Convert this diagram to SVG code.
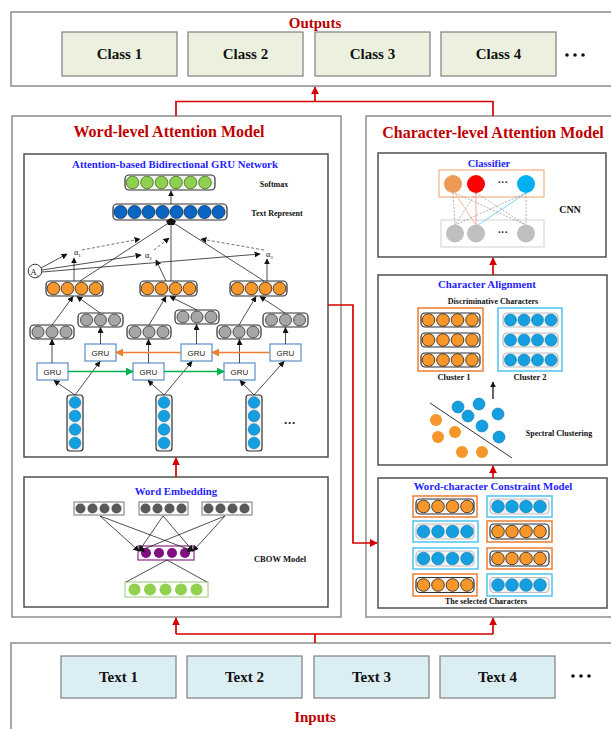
<svg xmlns="http://www.w3.org/2000/svg" width="611" height="729" viewBox="0 0 611 729">
<defs>
<style>
.box{fill:#fff;stroke:#8c8c8c;stroke-width:1.5}
.inner{fill:#fff;stroke:#505050;stroke-width:1.5}
.rt{font-family:"Liberation Serif",serif;font-weight:bold;fill:#c00000;text-anchor:middle}
.bt{font-family:"Liberation Serif",serif;font-weight:bold;fill:#1f1fff;text-anchor:middle}
.kt{font-family:"Liberation Serif",serif;font-weight:bold;fill:#111;text-anchor:middle}
.cls{fill:#ebf1de;stroke:#7f7f7f;stroke-width:1.2}
.txt{fill:#dbeef4;stroke:#7f7f7f;stroke-width:1.2}
.row{fill:#f4f4f4;stroke:#333;stroke-width:1.2}
.lrow{fill:#f2f2f2;stroke:#bfbfbf;stroke-width:1.2}
.o{fill:#f7962b;stroke:#2e2416;stroke-width:0.8}
.b{fill:#14a0e0;stroke:#0b73a8;stroke-width:0.6}
.db{fill:#0a66c2;stroke:#06305c;stroke-width:0.8}
.g{fill:#8fd14f;stroke:#3d6a1c;stroke-width:0.8}
.gr{fill:#a6a6a6;stroke:#333;stroke-width:0.8}
.dg{fill:#595959;stroke:none}
.pu{fill:#7f0f7f;stroke:none}
.lg{fill:#92d050;stroke:none}
.gru{fill:#fff;stroke:#5b8fc9;stroke-width:1.2}
.grut{font-family:"Liberation Sans",Arial,sans-serif;font-size:8px;fill:#222;text-anchor:middle}
.ln{fill:none;stroke:#222;stroke-width:0.8}
.lna{fill:none;stroke:#222;stroke-width:0.8;marker-end:url(#ak)}
.dash{fill:none;stroke:#333;stroke-width:0.7;stroke-dasharray:3,2;marker-end:url(#ak)}
.red{fill:none;stroke:#d40000;stroke-width:1.7}
.reda{fill:none;stroke:#d40000;stroke-width:1.7;marker-end:url(#ar)}
.ob{fill:#fff;stroke:#ed7d31;stroke-width:1.5}
.bb{fill:#fff;stroke:#4fc3f0;stroke-width:1.5}
</style>
<marker id="ar" viewBox="0 0 10 10" refX="9" refY="5" markerWidth="8" markerHeight="8" markerUnits="userSpaceOnUse" orient="auto"><path d="M0,0 L10,5 L0,10 z" fill="#d40000"/></marker>
<marker id="ak" viewBox="0 0 10 10" refX="9" refY="5" markerWidth="6" markerHeight="6" markerUnits="userSpaceOnUse" orient="auto"><path d="M0,0 L10,5 L0,10 z" fill="#111"/></marker>
<marker id="ag" viewBox="0 0 10 10" refX="9" refY="5" markerWidth="8" markerHeight="8" markerUnits="userSpaceOnUse" orient="auto"><path d="M0,0 L10,5 L0,10 z" fill="#00b050"/></marker>
<marker id="ao" viewBox="0 0 10 10" refX="9" refY="5" markerWidth="8" markerHeight="8" markerUnits="userSpaceOnUse" orient="auto"><path d="M0,0 L10,5 L0,10 z" fill="#ed7d31"/></marker>
</defs>

<!-- Outputs -->
<g id="outputs">
<rect class="box" x="11" y="12" width="606" height="74"/>
<text class="rt" x="315" y="28" font-size="15">Outputs</text>
</g>
<g id="class1"><rect class="cls" x="62" y="32" width="115" height="44"/><text class="kt" x="119.5" y="59" font-size="15">Class 1</text></g>
<g id="class2"><rect class="cls" x="188" y="32" width="115" height="44"/><text class="kt" x="245.5" y="59" font-size="15">Class 2</text></g>
<g id="class3"><rect class="cls" x="315" y="32" width="115" height="44"/><text class="kt" x="372.5" y="59" font-size="15">Class 3</text></g>
<g id="class4"><rect class="cls" x="441" y="32" width="115" height="44"/><text class="kt" x="498.5" y="59" font-size="15">Class 4</text></g>
<g id="outdots"><circle cx="567" cy="55" r="1.8" fill="#111"/><circle cx="575" cy="55" r="1.8" fill="#111"/><circle cx="583" cy="55" r="1.8" fill="#111"/></g>

<!-- Word-level model -->
<g id="word-level">
<rect class="box" x="12" y="116" width="329" height="501"/>
<text class="rt" x="169" y="137" font-size="16">Word-level Attention Model</text>
</g>

<g id="gru-network">
<rect class="inner" x="24" y="154" width="304" height="303"/>
<text class="bt" x="175" y="168" font-size="10.8">Attention-based Bidirectional GRU Network</text>
<!-- softmax -->
<rect class="row" x="125" y="175" width="90" height="15" rx="4"/>
<circle class="g" cx="132.5" cy="182.5" r="6.3"/><circle class="g" cx="147" cy="182.5" r="6.3"/><circle class="g" cx="161.5" cy="182.5" r="6.3"/><circle class="g" cx="176" cy="182.5" r="6.3"/><circle class="g" cx="190.5" cy="182.5" r="6.3"/><circle class="g" cx="205" cy="182.5" r="6.3"/>
<text class="kt" x="274" y="187" font-size="8">Softmax</text>
<!-- text represent -->
<rect class="row" x="113" y="204" width="114" height="16" rx="4"/>
<circle class="db" cx="120.5" cy="212" r="6.5"/><circle class="db" cx="134.5" cy="212" r="6.5"/><circle class="db" cx="148.5" cy="212" r="6.5"/><circle class="db" cx="162.5" cy="212" r="6.5"/><circle class="db" cx="176.5" cy="212" r="6.5"/><circle class="db" cx="190.5" cy="212" r="6.5"/><circle class="db" cx="204.5" cy="212" r="6.5"/><circle class="db" cx="218.5" cy="212" r="6.5"/>
<text class="kt" x="277" y="216" font-size="8">Text Represent</text>
<line class="lna" x1="171" y1="204" x2="171" y2="191"/>
<polygon points="166,221 171,218 176,221 174,225 168,225" fill="#111"/>
<!-- orange rows -->
<rect class="row" x="46" y="281" width="57" height="15" rx="4"/>
<circle class="o" cx="53.5" cy="288.5" r="6.3"/><circle class="o" cx="67.5" cy="288.5" r="6.3"/><circle class="o" cx="81.5" cy="288.5" r="6.3"/><circle class="o" cx="95.5" cy="288.5" r="6.3"/>
<rect class="row" x="140" y="281" width="57" height="15" rx="4"/>
<circle class="o" cx="147.5" cy="288.5" r="6.3"/><circle class="o" cx="161.5" cy="288.5" r="6.3"/><circle class="o" cx="175.5" cy="288.5" r="6.3"/><circle class="o" cx="189.5" cy="288.5" r="6.3"/>
<rect class="row" x="230" y="281" width="57" height="15" rx="4"/>
<circle class="o" cx="237.5" cy="288.5" r="6.3"/><circle class="o" cx="251.5" cy="288.5" r="6.3"/><circle class="o" cx="265.5" cy="288.5" r="6.3"/><circle class="o" cx="279.5" cy="288.5" r="6.3"/>
<!-- attention -->
<circle cx="35" cy="271" r="6.8" fill="#fff" stroke="#222" stroke-width="0.9"/>
<text x="34.5" y="274.5" font-family="Liberation Serif,serif" font-size="9" text-anchor="middle" fill="#111">A<tspan font-size="5" dy="2">s</tspan></text>
<text x="74" y="255" font-family="Liberation Serif,serif" font-size="8" fill="#111">α<tspan font-size="5" dy="1.5">1</tspan></text>
<text x="145" y="258" font-family="Liberation Serif,serif" font-size="8" fill="#111">α<tspan font-size="5" dy="1.5">2</tspan></text>
<text x="266" y="257" font-family="Liberation Serif,serif" font-size="8" fill="#111">α<tspan font-size="5" dy="1.5">3</tspan></text>
<!-- GRU boxes -->
<rect class="gru" x="37" y="363" width="31" height="17"/><text class="grut" x="52.5" y="374.5">GRU</text>
<rect class="gru" x="85" y="344" width="31" height="17"/><text class="grut" x="100.5" y="355.5">GRU</text>
<rect class="gru" x="133" y="363" width="31" height="17"/><text class="grut" x="148.5" y="374.5">GRU</text>
<rect class="gru" x="181" y="344" width="31" height="17"/><text class="grut" x="196.5" y="355.5">GRU</text>
<rect class="gru" x="224" y="363" width="31" height="17"/><text class="grut" x="239.5" y="374.5">GRU</text>
<rect class="gru" x="270" y="344" width="31" height="17"/><text class="grut" x="285.5" y="355.5">GRU</text>
<!-- gray rows -->
<rect class="row" x="30" y="325" width="44" height="14" rx="4"/>
<circle class="gr" cx="38" cy="332" r="6"/><circle class="gr" cx="52" cy="332" r="6"/><circle class="gr" cx="66" cy="332" r="6"/>
<rect class="row" x="78" y="313" width="45" height="14" rx="4"/>
<circle class="gr" cx="86.5" cy="320" r="6"/><circle class="gr" cx="100.5" cy="320" r="6"/><circle class="gr" cx="114.5" cy="320" r="6"/>
<rect class="row" x="127" y="325" width="44" height="14" rx="4"/>
<circle class="gr" cx="135" cy="332" r="6"/><circle class="gr" cx="149" cy="332" r="6"/><circle class="gr" cx="163" cy="332" r="6"/>
<rect class="row" x="175" y="310" width="44" height="14" rx="4"/>
<circle class="gr" cx="183" cy="317" r="6"/><circle class="gr" cx="197" cy="317" r="6"/><circle class="gr" cx="211" cy="317" r="6"/>
<rect class="row" x="217" y="325" width="44" height="14" rx="4"/>
<circle class="gr" cx="225" cy="332" r="6"/><circle class="gr" cx="239" cy="332" r="6"/><circle class="gr" cx="253" cy="332" r="6"/>
<rect class="row" x="263" y="313" width="45" height="14" rx="4"/>
<circle class="gr" cx="271.5" cy="320" r="6"/><circle class="gr" cx="285.5" cy="320" r="6"/><circle class="gr" cx="299.5" cy="320" r="6"/>
<!-- blue columns -->
<rect class="row" x="67" y="395" width="16" height="56" rx="3"/>
<circle class="b" cx="75" cy="402.5" r="5.8"/><circle class="b" cx="75" cy="416" r="5.8"/><circle class="b" cx="75" cy="429.5" r="5.8"/><circle class="b" cx="75" cy="443" r="5.8"/>
<rect class="row" x="156" y="395" width="16" height="56" rx="3"/>
<circle class="b" cx="164" cy="402.5" r="5.8"/><circle class="b" cx="164" cy="416" r="5.8"/><circle class="b" cx="164" cy="429.5" r="5.8"/><circle class="b" cx="164" cy="443" r="5.8"/>
<rect class="row" x="246" y="395" width="16" height="56" rx="3"/>
<circle class="b" cx="254" cy="402.5" r="5.8"/><circle class="b" cx="254" cy="416" r="5.8"/><circle class="b" cx="254" cy="429.5" r="5.8"/><circle class="b" cx="254" cy="443" r="5.8"/>
<text x="290" y="427" font-family="Liberation Sans,sans-serif" font-size="12" font-weight="bold" fill="#222" text-anchor="middle">···</text>
</g>

<g id="word-embedding">
<rect class="inner" x="24" y="477" width="304" height="130"/>
<text class="bt" x="176" y="495" font-size="10.8">Word Embedding</text>
<rect x="74" y="502" width="50" height="13" fill="#fff" stroke="#8c8c8c" stroke-width="1.2"/>
<circle class="dg" cx="80.5" cy="508.5" r="5"/><circle class="dg" cx="92.5" cy="508.5" r="5"/><circle class="dg" cx="104.5" cy="508.5" r="5"/><circle class="dg" cx="116.5" cy="508.5" r="5"/>
<rect x="139" y="502" width="49" height="13" fill="#fff" stroke="#8c8c8c" stroke-width="1.2"/>
<circle class="dg" cx="145.5" cy="508.5" r="5"/><circle class="dg" cx="157.5" cy="508.5" r="5"/><circle class="dg" cx="169.5" cy="508.5" r="5"/><circle class="dg" cx="181.5" cy="508.5" r="5"/>
<rect x="202" y="502" width="50" height="13" fill="#fff" stroke="#8c8c8c" stroke-width="1.2"/>
<circle class="dg" cx="208.5" cy="508.5" r="5"/><circle class="dg" cx="220.5" cy="508.5" r="5"/><circle class="dg" cx="232.5" cy="508.5" r="5"/><circle class="dg" cx="244.5" cy="508.5" r="5"/>
<rect x="138" y="546" width="56" height="14" fill="#fff" stroke="#8b2a8b" stroke-width="1.2"/>
<circle class="pu" cx="146" cy="553" r="5"/><circle class="pu" cx="159" cy="553" r="5"/><circle class="pu" cx="172" cy="553" r="5"/><circle class="pu" cx="185" cy="553" r="5"/>
<rect x="125" y="582" width="83" height="15" fill="#fff" stroke="#a9d18e" stroke-width="1.2"/>
<circle class="lg" cx="134.5" cy="589.5" r="6"/><circle class="lg" cx="150" cy="589.5" r="6"/><circle class="lg" cx="165.5" cy="589.5" r="6"/><circle class="lg" cx="181" cy="589.5" r="6"/><circle class="lg" cx="196.5" cy="589.5" r="6"/>
<text class="kt" x="280" y="562" font-size="8.5">CBOW Model</text>
<line class="lna" x1="100" y1="516" x2="139" y2="551"/>
<line class="lna" x1="100" y1="516" x2="193" y2="551"/>
<line class="lna" x1="163" y1="516" x2="139" y2="551"/>
<line class="lna" x1="163" y1="516" x2="193" y2="551"/>
<line class="lna" x1="225" y1="516" x2="139" y2="551"/>
<line class="lna" x1="225" y1="516" x2="193" y2="551"/>
<line class="ln" x1="167" y1="560" x2="126" y2="582"/>
<line class="ln" x1="167" y1="560" x2="207" y2="582"/>
</g>

<!-- Character-level model -->
<g id="character-level">
<rect class="box" x="366" y="116" width="252" height="501"/>
<text class="rt" x="493" y="138" font-size="16">Character-level Attention Model</text>
</g>

<g id="classifier">
<rect class="inner" x="378" y="153" width="228" height="104"/>
<text class="bt" x="489" y="167" font-size="10.5">Classifier</text>
<rect x="439" y="170" width="105" height="27" fill="#fff" stroke="#f4b183" stroke-width="1.2"/>
<rect x="441" y="220" width="103" height="27" fill="#fff" stroke="#d9d9d9" stroke-width="1.2"/>
<g stroke-width="0.6" stroke-dasharray="2,1.5" fill="none">
<line x1="453" y1="193" x2="455" y2="225" stroke="#7f7f7f"/>
<line x1="455" y1="193" x2="526" y2="225" stroke="#7f7f7f"/>
<line x1="476" y1="193" x2="526" y2="225" stroke="#7f7f7f"/>
<line x1="476" y1="193" x2="455" y2="225" stroke="#7f7f7f"/>
<line x1="526" y1="193" x2="455" y2="225" stroke="#7f7f7f"/>
<line x1="526" y1="193" x2="526" y2="225" stroke="#7f7f7f"/>
</g>
<line x1="455" y1="193" x2="476" y2="225" stroke="#f4a070" stroke-width="0.7"/>
<line x1="476" y1="193" x2="476" y2="225" stroke="#ff8080" stroke-width="0.7"/>
<line x1="526" y1="193" x2="478" y2="225" stroke="#40c0f0" stroke-width="0.7"/>
<circle cx="453" cy="184" r="9" fill="#ec9a55"/>
<circle cx="476" cy="184" r="9" fill="#ff0000"/>
<text x="503" y="186" font-family="Liberation Sans,sans-serif" font-size="10" font-weight="bold" fill="#222" text-anchor="middle">···</text>
<circle cx="526" cy="184" r="9" fill="#00b0f0"/>
<circle cx="455" cy="233.5" r="9" fill="#bfbfbf"/>
<circle cx="476" cy="233.5" r="9" fill="#bfbfbf"/>
<text x="503" y="236" font-family="Liberation Sans,sans-serif" font-size="10" font-weight="bold" fill="#222" text-anchor="middle">···</text>
<circle cx="526" cy="233.5" r="9" fill="#bfbfbf"/>
<text class="kt" x="570" y="213" font-size="10">CNN</text>
</g>

<g id="character-alignment">
<rect class="inner" x="378" y="275" width="229" height="190"/>
<text class="bt" x="487" y="288" font-size="10.8">Character Alignment</text>
<text class="kt" x="493" y="304" font-size="8">Discriminative Characters</text>
<rect class="ob" x="418" y="308" width="65" height="63"/>
<rect class="row" x="421" y="313" width="59" height="14" rx="4"/>
<circle class="o" cx="428.5" cy="320" r="6.3"/><circle class="o" cx="443" cy="320" r="6.3"/><circle class="o" cx="457.5" cy="320" r="6.3"/><circle class="o" cx="472" cy="320" r="6.3"/>
<rect class="row" x="421" y="333" width="59" height="14" rx="4"/>
<circle class="o" cx="428.5" cy="340" r="6.3"/><circle class="o" cx="443" cy="340" r="6.3"/><circle class="o" cx="457.5" cy="340" r="6.3"/><circle class="o" cx="472" cy="340" r="6.3"/>
<rect class="row" x="421" y="353" width="59" height="14" rx="4"/>
<circle class="o" cx="428.5" cy="360" r="6.3"/><circle class="o" cx="443" cy="360" r="6.3"/><circle class="o" cx="457.5" cy="360" r="6.3"/><circle class="o" cx="472" cy="360" r="6.3"/>
<rect class="bb" x="498" y="308" width="64" height="63"/>
<rect class="lrow" x="503" y="313" width="55" height="14" rx="4"/>
<circle class="b" cx="510.5" cy="320" r="6"/><circle class="b" cx="524" cy="320" r="6"/><circle class="b" cx="537.5" cy="320" r="6"/><circle class="b" cx="551" cy="320" r="6"/>
<rect class="lrow" x="503" y="333" width="55" height="14" rx="4"/>
<circle class="b" cx="510.5" cy="340" r="6"/><circle class="b" cx="524" cy="340" r="6"/><circle class="b" cx="537.5" cy="340" r="6"/><circle class="b" cx="551" cy="340" r="6"/>
<rect class="lrow" x="503" y="353" width="55" height="14" rx="4"/>
<circle class="b" cx="510.5" cy="360" r="6"/><circle class="b" cx="524" cy="360" r="6"/><circle class="b" cx="537.5" cy="360" r="6"/><circle class="b" cx="551" cy="360" r="6"/>
<text class="kt" x="454" y="380" font-size="8.5">Cluster 1</text>
<text class="kt" x="530" y="380" font-size="8.5">Cluster 2</text>
<line x1="493" y1="399" x2="493" y2="382" stroke="#111" stroke-width="1.3" marker-end="url(#ak)"/>
<line x1="430" y1="403" x2="512" y2="458" stroke="#333" stroke-width="1"/>
<circle class="b" cx="458" cy="407" r="6"/><circle class="b" cx="479" cy="404" r="6"/><circle class="b" cx="468" cy="416" r="6"/><circle class="b" cx="498" cy="414" r="6"/><circle class="b" cx="482" cy="426" r="6"/><circle class="b" cx="499" cy="437" r="6"/>
<circle cx="436" cy="420" r="6" fill="#f7962b"/><circle cx="438" cy="437" r="6" fill="#f7962b"/><circle cx="455" cy="432" r="6" fill="#f7962b"/><circle cx="462" cy="452" r="6" fill="#f7962b"/><circle cx="482" cy="452" r="6" fill="#f7962b"/>
<text class="kt" x="559" y="436" font-size="8">Spectral Clustering</text>
</g>

<g id="word-character">
<rect class="inner" x="378" y="478" width="229" height="130"/>
<text class="bt" x="493" y="490" font-size="10.8">Word-character Constraint Model</text>
<!-- left column -->
<rect class="ob" x="413" y="496" width="64" height="21"/>
<rect class="row" x="416" y="499" width="58" height="15" rx="4"/>
<circle class="o" cx="423.5" cy="506.5" r="6.3"/><circle class="o" cx="438" cy="506.5" r="6.3"/><circle class="o" cx="452.5" cy="506.5" r="6.3"/><circle class="o" cx="467" cy="506.5" r="6.3"/>
<rect class="bb" x="413" y="521" width="65" height="21"/>
<rect class="lrow" x="416" y="524" width="58" height="15" rx="4"/>
<circle class="b" cx="423.5" cy="531.5" r="6.3"/><circle class="b" cx="438" cy="531.5" r="6.3"/><circle class="b" cx="452.5" cy="531.5" r="6.3"/><circle class="b" cx="467" cy="531.5" r="6.3"/>
<rect class="bb" x="413" y="548" width="65" height="21"/>
<rect class="lrow" x="416" y="551" width="58" height="15" rx="4"/>
<circle class="b" cx="423.5" cy="558.5" r="6.3"/><circle class="b" cx="438" cy="558.5" r="6.3"/><circle class="b" cx="452.5" cy="558.5" r="6.3"/><circle class="b" cx="467" cy="558.5" r="6.3"/>
<rect class="ob" x="413" y="574" width="64" height="22"/>
<rect class="row" x="416" y="577.5" width="58" height="15" rx="4"/>
<circle class="o" cx="423.5" cy="585" r="6.3"/><circle class="o" cx="438" cy="585" r="6.3"/><circle class="o" cx="452.5" cy="585" r="6.3"/><circle class="o" cx="467" cy="585" r="6.3"/>
<!-- right column -->
<rect class="bb" x="487" y="496" width="65" height="21"/>
<rect class="lrow" x="490" y="499" width="59" height="15" rx="4"/>
<circle class="b" cx="498" cy="506.5" r="6.3"/><circle class="b" cx="512" cy="506.5" r="6.3"/><circle class="b" cx="526" cy="506.5" r="6.3"/><circle class="b" cx="540" cy="506.5" r="6.3"/>
<rect class="ob" x="487" y="521" width="65" height="21"/>
<rect class="row" x="490" y="524" width="59" height="15" rx="4"/>
<circle class="o" cx="498" cy="531.5" r="6.3"/><circle class="o" cx="512" cy="531.5" r="6.3"/><circle class="o" cx="526" cy="531.5" r="6.3"/><circle class="o" cx="540" cy="531.5" r="6.3"/>
<rect class="ob" x="487" y="548" width="65" height="21"/>
<rect class="row" x="490" y="551" width="59" height="15" rx="4"/>
<circle class="o" cx="498" cy="558.5" r="6.3"/><circle class="o" cx="512" cy="558.5" r="6.3"/><circle class="o" cx="526" cy="558.5" r="6.3"/><circle class="o" cx="540" cy="558.5" r="6.3"/>
<rect class="bb" x="487" y="574" width="65" height="22"/>
<rect class="lrow" x="490" y="577.5" width="59" height="15" rx="4"/>
<circle class="b" cx="498" cy="585" r="6.3"/><circle class="b" cx="512" cy="585" r="6.3"/><circle class="b" cx="526" cy="585" r="6.3"/><circle class="b" cx="540" cy="585" r="6.3"/>
<text class="kt" x="486" y="604" font-size="8">The selected Characters</text>
</g>

<!-- Inputs -->
<g id="inputs">
<rect class="box" x="11" y="643" width="606" height="100"/>
<text class="rt" x="315" y="722" font-size="15">Inputs</text>
</g>
<g id="text1"><rect class="txt" x="61" y="656" width="115" height="42"/><text class="kt" x="118.5" y="682" font-size="15">Text 1</text></g>
<g id="text2"><rect class="txt" x="187" y="656" width="115" height="42"/><text class="kt" x="244.5" y="682" font-size="15">Text 2</text></g>
<g id="text3"><rect class="txt" x="314" y="656" width="115" height="42"/><text class="kt" x="371.5" y="682" font-size="15">Text 3</text></g>
<g id="text4"><rect class="txt" x="440" y="656" width="115" height="42"/><text class="kt" x="497.5" y="682" font-size="15">Text 4</text></g>
<g id="indots"><circle cx="573" cy="676" r="1.8" fill="#111"/><circle cx="581" cy="676" r="1.8" fill="#111"/><circle cx="589" cy="676" r="1.8" fill="#111"/></g>

<!-- Connectors -->
<g id="connectors">
<line class="lna" x1="75" y1="395" x2="54" y2="380.5"/>
<line class="lna" x1="75" y1="395" x2="100" y2="361.5"/>
<line class="lna" x1="164" y1="395" x2="148" y2="380.5"/>
<line class="lna" x1="164" y1="395" x2="192" y2="361.5"/>
<line class="lna" x1="254" y1="395" x2="240" y2="380.5"/>
<line class="lna" x1="254" y1="395" x2="284" y2="361.5"/>
<line class="lna" x1="52" y1="363" x2="52" y2="339.5"/>
<line class="lna" x1="100.5" y1="344" x2="100.5" y2="327.5"/>
<line class="lna" x1="148.5" y1="363" x2="148.5" y2="339.5"/>
<line class="lna" x1="196.5" y1="344" x2="196.5" y2="324.5"/>
<line class="lna" x1="239.5" y1="363" x2="239.5" y2="339.5"/>
<line class="lna" x1="285.5" y1="344" x2="285.5" y2="327.5"/>
<line x1="68" y1="371.5" x2="133" y2="371.5" stroke="#00b050" stroke-width="1.3" marker-end="url(#ag)"/>
<line x1="164" y1="371.5" x2="224" y2="371.5" stroke="#00b050" stroke-width="1.3" marker-end="url(#ag)"/>
<line x1="270" y1="352.5" x2="212" y2="352.5" stroke="#ed7d31" stroke-width="1.3" marker-end="url(#ao)"/>
<line x1="181" y1="352.5" x2="116" y2="352.5" stroke="#ed7d31" stroke-width="1.3" marker-end="url(#ao)"/>
<line class="lna" x1="52" y1="325" x2="73" y2="296.5"/>
<line class="lna" x1="100" y1="313" x2="77" y2="296.5"/>
<line class="lna" x1="149" y1="325" x2="166" y2="296.5"/>
<line class="lna" x1="197" y1="310" x2="170" y2="296.5"/>
<line class="lna" x1="239" y1="325" x2="256" y2="296.5"/>
<line class="lna" x1="285" y1="313" x2="260" y2="296.5"/>
<line class="lna" x1="74" y1="281" x2="74" y2="258"/>
<line class="lna" x1="166" y1="281" x2="156" y2="260"/>
<line class="lna" x1="267" y1="281" x2="267" y2="259"/>
<line class="ln" x1="80" y1="281" x2="170" y2="222"/>
<line class="ln" x1="171" y1="281" x2="171" y2="222"/>
<line class="ln" x1="172" y1="222" x2="264" y2="281"/>
<line class="lna" x1="41" y1="268" x2="67" y2="254"/>
<line class="lna" x1="42" y1="270" x2="141" y2="255"/>
<line class="lna" x1="42" y1="272" x2="260" y2="254"/>
<line class="dash" x1="82" y1="250" x2="140" y2="239"/>
<line class="dash" x1="154" y1="250" x2="169" y2="238"/>
<line class="dash" x1="264" y1="250" x2="201" y2="239"/>
<path class="red" d="M176,116 V101.5 H493 V116"/>
<line class="reda" x1="315" y1="101.5" x2="315" y2="87"/>
<line class="reda" x1="176" y1="477" x2="176" y2="458"/>
<line class="reda" x1="493" y1="275" x2="493" y2="258"/>
<line class="reda" x1="493" y1="478" x2="493" y2="466"/>
<path class="reda" d="M328,305 H353 V543 H377"/>
<path class="red" d="M315,643 V634 M176,634 H493"/>
<line class="reda" x1="176" y1="634" x2="176" y2="618"/>
<line class="reda" x1="493" y1="634" x2="493" y2="618"/>
</g>
</svg>
